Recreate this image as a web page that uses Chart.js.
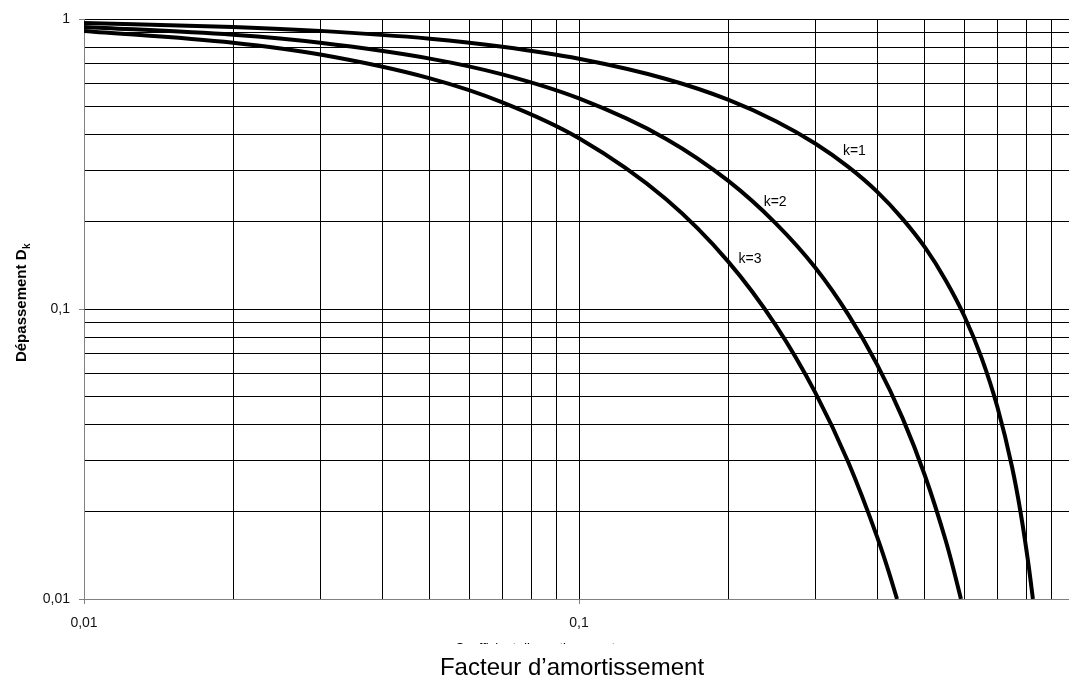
<!DOCTYPE html>
<html>
<head>
<meta charset="utf-8">
<script src="https://cdn.jsdelivr.net/npm/chart.js@4"></script>
<style>
  html, body { margin: 0; padding: 0; background: #fff; overflow: hidden; }
  #wrap { position: absolute; left: 0; top: 0; width: 1080px; height: 682px; }
</style>
</head>
<body>
<div id="wrap"><canvas id="dkChart" width="1080" height="682"></canvas></div>
<script>
// ===== DONNÉES =====
// facteur d'amortissement (axe x) et dépassement D_k (axe y)
const zetaK1 = [0.01, 0.02, 0.03, 0.05, 0.07, 0.1, 0.15, 0.2, 0.25, 0.3, 0.35, 0.4, 0.45, 0.5, 0.55, 0.6, 0.65, 0.7, 0.75, 0.78, 0.81, 0.826];
const depK1 = [0.969, 0.939, 0.910, 0.855, 0.802, 0.729, 0.621, 0.527, 0.444, 0.372, 0.309, 0.254, 0.205, 0.163, 0.126, 0.0948, 0.0681, 0.0460, 0.0284, 0.0199, 0.0130, 0.0100];

const zetaK2 = [0.01, 0.02, 0.03, 0.05, 0.07, 0.1, 0.15, 0.2, 0.25, 0.3, 0.35, 0.4, 0.45, 0.5, 0.55, 0.57, 0.591];
const depK2 = [0.939, 0.882, 0.828, 0.730, 0.644, 0.532, 0.386, 0.277, 0.197, 0.139, 0.0956, 0.0644, 0.0422, 0.0266, 0.0160, 0.0128, 0.0100];

const zetaK3 = [0.01, 0.02, 0.03, 0.05, 0.07, 0.1, 0.15, 0.2, 0.25, 0.3, 0.35, 0.4, 0.42, 0.439];
const depK3 = [0.910, 0.828, 0.754, 0.624, 0.516, 0.388, 0.239, 0.146, 0.0877, 0.0516, 0.0296, 0.0164, 0.0128, 0.0100];

// graduations (quadrillage log)
const xTicks = [0.01, 0.02, 0.03, 0.04, 0.05, 0.06, 0.07, 0.08, 0.09, 0.1, 0.2, 0.3, 0.4, 0.5, 0.6, 0.7, 0.8, 0.9, 1];
const yTicks = [0.01, 0.02, 0.03, 0.04, 0.05, 0.06, 0.07, 0.08, 0.09, 0.1, 0.2, 0.3, 0.4, 0.5, 0.6, 0.7, 0.8, 0.9, 1];
const xLabels = { 0.01: "0,01", 0.1: "0,1" };
const yLabels = { 0.01: "0,01", 0.1: "0,1", 1: "1" };

// étiquettes des courbes
const curveNames = ["k=1", "k=2", "k=3"];
const curveLabelX = [0.36, 0.249, 0.2215];
const curveLabelY = [0.35, 0.234, 0.148];

const FONT = "'Liberation Sans', Arial, sans-serif";

function toPoints(xs, ys) {
  return xs.map((x, i) => ({ x: x, y: ys[i] }));
}

function isMajor(ctx) {
  return ctx.tick && (ctx.tick.value === 0.01 || ctx.tick.value === 0.1 || ctx.tick.value === 1);
}

// ===== PLUGIN : titres et étiquettes k =====
const textPlugin = {
  id: "textPlugin",
  afterDraw(chart) {
    const c = chart.ctx;
    const xs = chart.scales.x;
    const ys = chart.scales.y;

    // étiquettes k=1..3
    c.save();
    c.fillStyle = "#000";
    c.font = "14px " + FONT;
    c.textAlign = "center";
    c.textBaseline = "middle";
    curveNames.forEach((name, i) => {
      c.fillText(name, xs.getPixelForValue(curveLabelX[i]), ys.getPixelForValue(curveLabelY[i]));
    });
    c.restore();

    // titre axe y (vertical, gras, indice k)
    c.save();
    c.translate(26, 303);
    c.rotate(-Math.PI / 2);
    c.fillStyle = "#000";
    c.textBaseline = "alphabetic";
    c.font = "bold 15px " + FONT;
    const main = "Dépassement D";
    const wMain = c.measureText(main).width;
    c.font = "bold 10px " + FONT;
    const wSub = c.measureText("k").width;
    const start = -(wMain + wSub) / 2;
    c.font = "bold 15px " + FONT;
    c.textAlign = "left";
    c.fillText(main, start, 0);
    c.font = "bold 10px " + FONT;
    c.fillText("k", start + wMain + 0.5, 4);
    c.restore();

    // ancien titre masqué (seul le haut des lettres dépasse)
    c.save();
    c.beginPath();
    c.rect(400, 641, 300, 3);
    c.clip();
    c.fillStyle = "#000";
    c.font = "13px " + FONT;
    c.textAlign = "center";
    c.textBaseline = "alphabetic";
    c.fillText("Coefficient d’amortissement", 535, 652);
    c.restore();

    // titre axe x
    c.save();
    c.fillStyle = "#000";
    c.font = "24px " + FONT;
    c.textAlign = "center";
    c.textBaseline = "alphabetic";
    c.fillText("Facteur d’amortissement", 572, 675);
    c.restore();
  },
};

const ctx = document.getElementById("dkChart").getContext("2d");
const lineStyle = {
  borderColor: "#000",
  backgroundColor: "#000",
  borderWidth: 4,
  pointRadius: 0,
  cubicInterpolationMode: "monotone",
  fill: false,
};

const myChart = new Chart(ctx, {
  type: "line",
  data: {
    datasets: [
      Object.assign({ label: "k=1", data: toPoints(zetaK1, depK1) }, lineStyle),
      Object.assign({ label: "k=2", data: toPoints(zetaK2, depK2) }, lineStyle),
      Object.assign({ label: "k=3", data: toPoints(zetaK3, depK3) }, lineStyle),
    ],
  },
  options: {
    responsive: false,
    animation: false,
    devicePixelRatio: 1,
    layout: { padding: { top: 19, right: 6, left: 0, bottom: 0 } },
    plugins: {
      legend: { display: false },
      tooltip: { enabled: false },
    },
    scales: {
      x: {
        type: "logarithmic",
        min: 0.01,
        max: 1,
        afterBuildTicks: (scale) => {
          scale.ticks = xTicks.map((v) => ({ value: v }));
        },
        afterFit: (scale) => {
          scale.height = 83;
          scale.paddingLeft = 0;
          scale.paddingRight = 0;
        },
        ticks: {
          autoSkip: false,
          maxRotation: 0,
          padding: 11,
          color: "#111",
          font: { family: FONT, size: 14 },
          callback: (v) => xLabels[v] || "",
        },
        grid: {
          color: "#000",
          lineWidth: 1,
          tickLength: 5,
          tickColor: (c) => (isMajor(c) ? "#808080" : "rgba(0,0,0,0)"),
        },
        border: { display: true, color: "#808080", width: 1 },
      },
      y: {
        type: "logarithmic",
        min: 0.01,
        max: 1,
        afterBuildTicks: (scale) => {
          scale.ticks = yTicks.map((v) => ({ value: v }));
        },
        afterFit: (scale) => {
          scale.width = 84;
          scale.paddingTop = 0;
          scale.paddingBottom = 0;
        },
        ticks: {
          autoSkip: false,
          padding: 9,
          color: "#111",
          font: { family: FONT, size: 14 },
          callback: (v) => yLabels[v] || "",
        },
        grid: {
          color: "#000",
          lineWidth: 1,
          tickLength: 5,
          tickColor: (c) => (isMajor(c) ? "#808080" : "rgba(0,0,0,0)"),
        },
        border: { display: true, color: "#808080", width: 1 },
      },
    },
  },
  plugins: [textPlugin],
});
</script>
</body>
</html>
